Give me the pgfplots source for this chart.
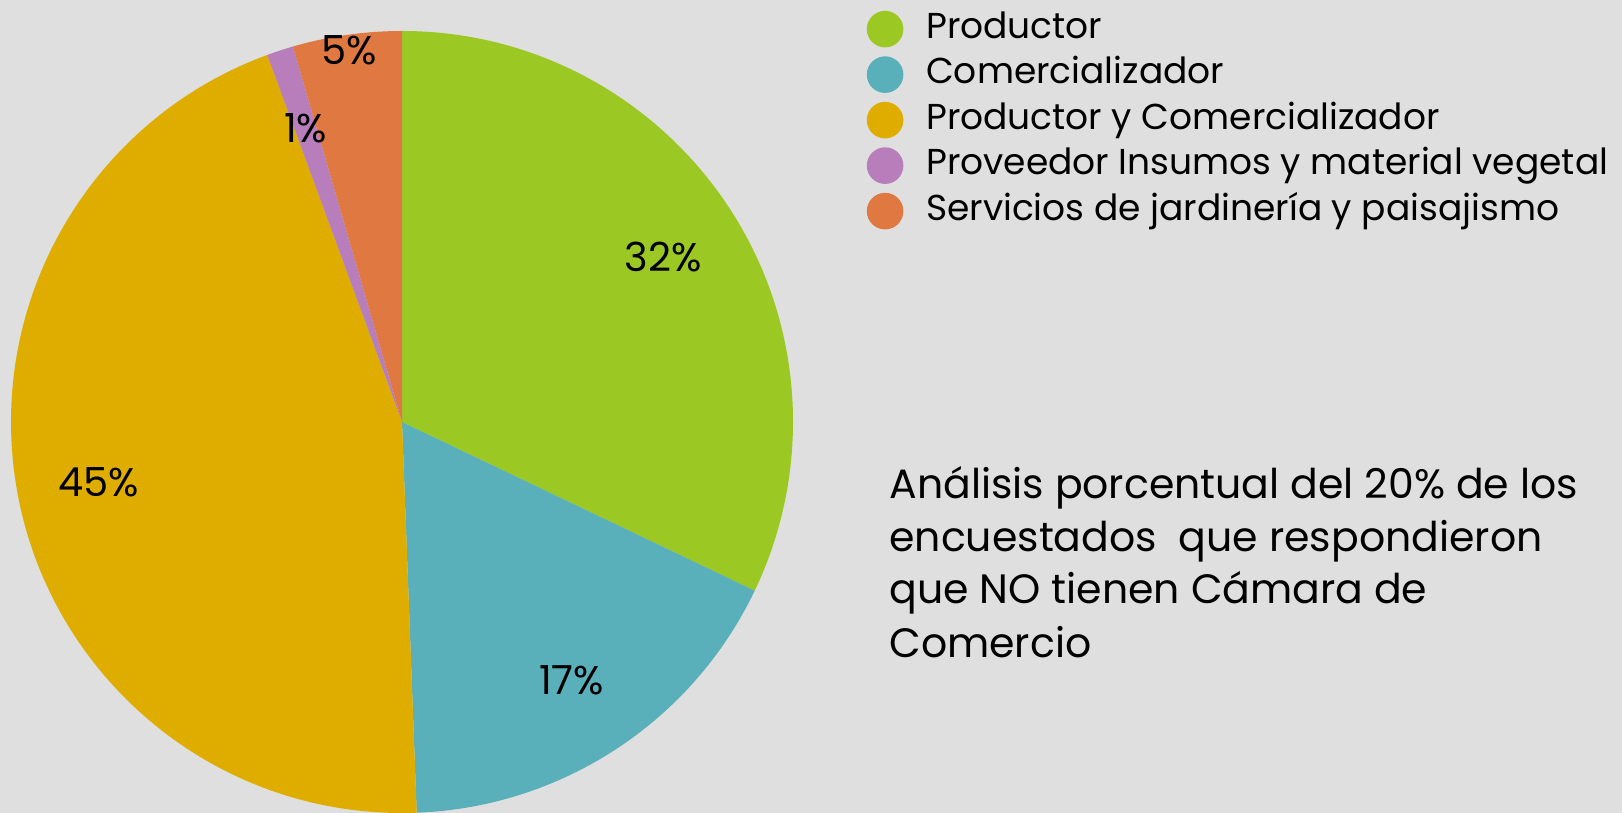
\documentclass[border=0pt]{standalone}
\usepackage{pgfplots}
\pgfplotsset{compat=1.18}
\usepackage{pgfplotstable}
\usepackage{fontspec}
\setmainfont{Poppins}
\definecolor{bg}{HTML}{DFDFDF}
\definecolor{col0}{HTML}{9BC823}
\definecolor{col1}{HTML}{5AB0BA}
\definecolor{col2}{HTML}{DEAD00}
\definecolor{col3}{HTML}{B87DBB}
\definecolor{col4}{HTML}{E07841}

% share (percent), printed label, label distance as a fraction of the radius
\pgfplotstableread{
name value lab pos
Productor 32.1 32 0.79
Comercializador 17.3 17 0.79
ProdCom 45.0 45 0.79
Proveedor 1.1 1 0.79
Servicios 4.5 5 0.96
}\piedata

\def\cum{90}
\pgfplotsforeachungrouped \i in {0,...,4}{%
  \pgfplotstablegetelem{\i}{value}\of\piedata
  \let\v\pgfplotsretval
  \pgfmathsetmacro\pstart{\cum}%
  \pgfmathsetmacro\pstop{\cum-3.6*\v}%
  \pgfmathsetmacro\pmid{(\pstart+\pstop)/2}%
  \expandafter\xdef\csname pieS\i\endcsname{\pstart}%
  \expandafter\xdef\csname pieE\i\endcsname{\pstop}%
  \expandafter\xdef\csname pieM\i\endcsname{\pmid}%
  \pgfplotstablegetelem{\i}{pos}\of\piedata
  \expandafter\xdef\csname pieP\i\endcsname{\pgfplotsretval}%
  \pgfplotstablegetelem{\i}{lab}\of\piedata
  \expandafter\xdef\csname pieL\i\endcsname{\pgfplotsretval}%
  \xdef\cum{\pstop}%
}
\def\pieS#1{\csname pieS#1\endcsname}
\def\pieE#1{\csname pieE#1\endcsname}
\def\pieM#1{\csname pieM#1\endcsname}
\def\pieP#1{\csname pieP#1\endcsname}
\def\pieL#1{\csname pieL#1\endcsname}
\def\pieR{195.5pt}% 391 px, 1 px = 0.5pt

\begin{document}
\begin{tikzpicture}
\begin{axis}[
  scale only axis, width=811pt, height=406.5pt,
  xmin=0, xmax=1622, ymin=0, ymax=813,
  hide axis,
  axis background/.style={fill=bg},
  legend cell align=left,
  legend image code/.code={\fill[#1, draw=none] (9.15pt,0pt) circle (9.15pt);
    \path (0pt,0pt) (24.5pt,0pt);},
  legend style={draw=none, fill=none, at={(866/1622,1-6/813)}, anchor=north west,
    font=\fontsize{18}{21}\selectfont, row sep=0pt, inner sep=0pt,
    nodes={inner ysep=2pt, inner xsep=5pt, text height=14pt, text depth=4.75pt}},
]
\addlegendimage{fill=col0}\addlegendentry{Productor}
\addlegendimage{fill=col1}\addlegendentry{Comercializador}
\addlegendimage{fill=col2}\addlegendentry{Productor y Comercializador}
\addlegendimage{fill=col3}\addlegendentry{Proveedor Insumos y material vegetal}
\addlegendimage{fill=col4}\addlegendentry{Servicios de jardinería y paisajismo}

\pgfplotsinvokeforeach{0,...,4}{
  \fill[col#1] (axis cs:402,391) -- ++(\pieS{#1}:\pieR)
    arc[start angle=\pieS{#1}, end angle=\pieE{#1}, radius=\pieR] -- cycle;
}
\pgfplotsinvokeforeach{0,...,4}{
  \node[font=\fontsize{20}{22}\selectfont, inner sep=0pt]
    at ([shift={(\pieM{#1}:{\pieP{#1}*195.5pt})}]axis cs:402,391) {\pieL{#1}\%};
}

\begin{scope}[every node/.style={anchor=base west, inner sep=0pt, font=\fontsize{20.5}{27}\selectfont}]
\node at (axis cs:889,314) {Análisis porcentual del 20\% de los};
\node at (axis cs:889,261) {encuestados\ \ que respondieron};
\node at (axis cs:889,209) {que NO tienen Cámara de};
\node at (axis cs:889,155) {Comercio};
\end{scope}
\end{axis}
\end{tikzpicture}
\end{document}
